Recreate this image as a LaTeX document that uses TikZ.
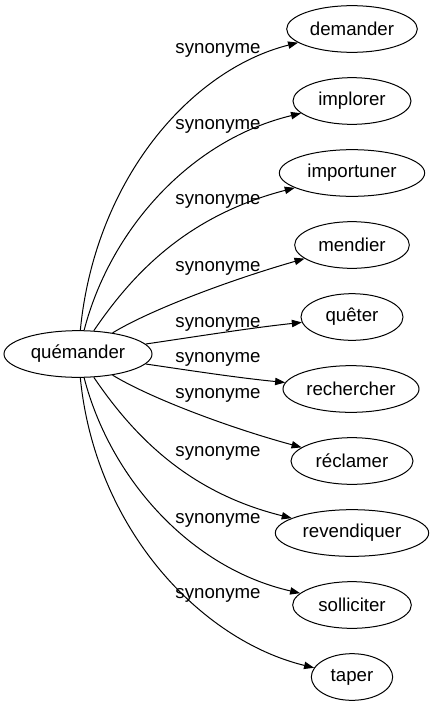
\documentclass[tikz,border=0pt]{standalone}
\usepackage{fontspec}
\setmainfont{Liberation Sans}
\usetikzlibrary{shapes.geometric,arrows.meta}

\tikzset{
    mot/.style={draw, ellipse, inner sep=0pt, minimum height=35pt, line width=0.75pt, font=\fontsize{14}{17}\selectfont},
    lab/.style={anchor=base, inner sep=0pt, font=\fontsize{14}{17}\selectfont},
    syn/.style={-{Triangle[length=7.5pt,width=5.5pt]}, line width=0.75pt}
}

\begin{document}
\begin{tikzpicture}[x=0.75pt, y=-0.75pt]
        \useasboundingbox (0,0) rectangle (433,707);

        \node[mot, minimum width=111pt] (q0) at (78,354) {quémander} ;
        \node[mot, minimum width=98pt] (w1) at (352,29) {demander} ;
        \node[mot, minimum width=88.5pt] (w2) at (352,101) {implorer} ;
        \node[mot, minimum width=109pt] (w3) at (352,173) {importuner} ;
        \node[mot, minimum width=86pt] (w4) at (352,245) {mendier} ;
        \node[mot, minimum width=76.5pt] (w5) at (352,317) {quêter} ;
        \node[mot, minimum width=102pt] (w6) at (351,389) {rechercher} ;
        \node[mot, minimum width=91.5pt] (w7) at (352,461) {réclamer} ;
        \node[mot, minimum width=115pt] (w8) at (352,533) {revendiquer} ;
        \node[mot, minimum width=89pt] (w9) at (352,605) {solliciter} ;
        \node[mot, minimum width=61pt] (w10) at (352,677) {taper} ;

        \node[lab] (l1) at (218,53) {synonyme} ;
        \node[lab] (l2) at (218,129) {synonyme} ;
        \node[lab] (l3) at (218,204) {synonyme} ;
        \node[lab] (l4) at (218,271) {synonyme} ;
        \node[lab] (l5) at (218,327) {synonyme} ;
        \node[lab] (l6) at (218,362) {synonyme} ;
        \node[lab] (l7) at (218,398) {synonyme} ;
        \node[lab] (l8) at (218,456) {synonyme} ;
        \node[lab] (l9) at (218,523) {synonyme} ;
        \node[lab] (l10) at (218,598) {synonyme} ;

        \draw[syn] (q0) .. controls (95,180) and (190,70) .. (w1);
        \draw[syn] (q0) .. controls (110,230) and (190,140) .. (w2);
        \draw[syn] (q0) .. controls (135,270) and (190,215) .. (w3);
        \draw[syn] (q0) .. controls (150,310) and (230,280) .. (w4);
        \draw[syn] (q0) .. controls (200,336) and (250,328) .. (w5);
        \draw[syn] (q0) .. controls (200,372) and (240,378) .. (w6);
        \draw[syn] (q0) .. controls (150,398) and (230,428) .. (w7);
        \draw[syn] (q0) .. controls (135,438) and (190,493) .. (w8);
        \draw[syn] (q0) .. controls (110,478) and (190,568) .. (w9);
        \draw[syn] (q0) .. controls (95,528) and (200,640) .. (w10);
    \end{tikzpicture}
\end{document}
